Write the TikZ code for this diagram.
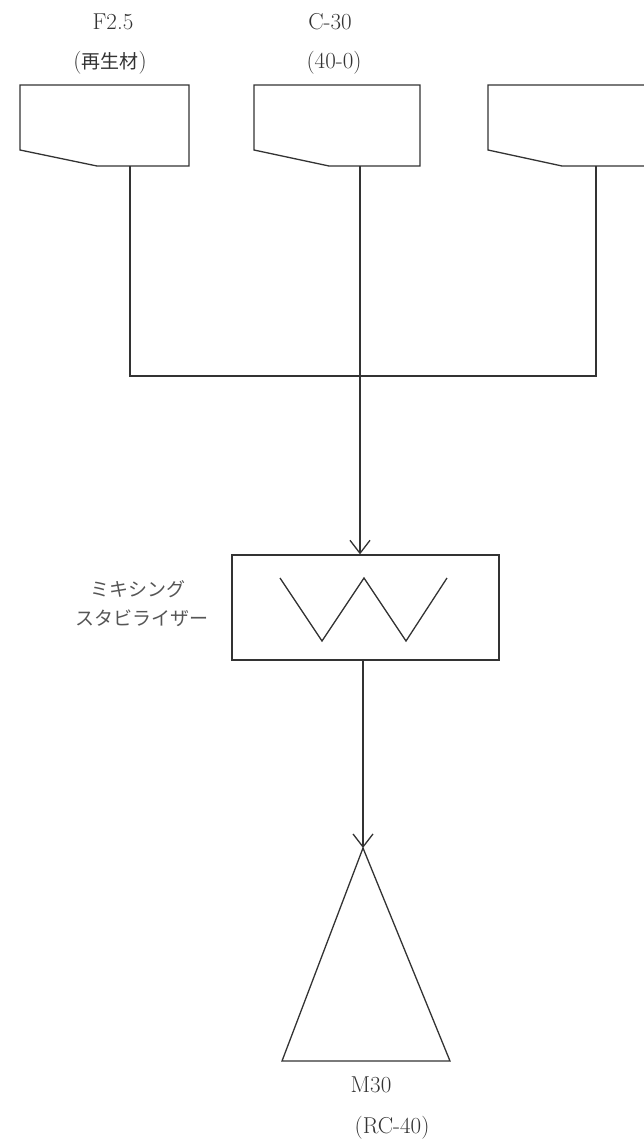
\documentclass[tikz,border=0pt]{standalone}
\usepackage{fontspec}
\newfontfamily\jpfont{Noto Sans CJK JP}
\usetikzlibrary{arrows.meta, positioning, calc}
\definecolor{lineink}{HTML}{333333}
\definecolor{jpink}{HTML}{555555}

\begin{document}
\begin{tikzpicture}[x=1pt, y=-1pt, line width=1.3pt, draw=lineink,
    flow/.style={-{Straight Barb[length=13pt,width=20pt,line width=1.3pt]}},
    matname/.style={font=\fontsize{23}{27}\selectfont, text=lineink},
    jpname/.style={font=\jpfont\fontsize{19}{29}\selectfont, text=jpink, align=left}]
  \useasboundingbox (0,0) rectangle (644,1140);

  % hoppers
  \draw (20,85) -- (189,85) -- (189,166) -- (97,166) -- (20,150) -- cycle;
  \draw (254,85) -- (420,85) -- (420,166) -- (329,166) -- (254,150) -- cycle;
  \draw (644,85) -- (488,85) -- (488,150) -- (562,166) -- (644,166);
  \coordinate (hopA) at (130,166);
  \coordinate (hopB) at (360,166);
  \coordinate (hopC) at (596,166);

  \node[matname] (nameA) at (113,22) {F2.5};
  \node[matname] (subA) at (110,63) {({\jpfont\fontsize{19}{23}\selectfont 再生材})};
  \node[matname] (nameB) at (330,22) {C-30};
  \node[matname] (subB) at (334,63) {(40-0)};

  % collector
  \coordinate (joinA) at (130,376);
  \coordinate (joinC) at (596,376);
  \draw (hopA) -- (joinA) -- (joinC) -- (hopC);

  % mixer
  \node[draw, minimum width=267pt, minimum height=105pt, inner sep=0pt]
    (mixer) at (365.5,607.5) {};
  \draw (280,578) -- (322,641) -- (364,578) -- (406,641) -- (447,578);
  \node[jpname, anchor=east] (mixname) at (212,604)
    {\hspace*{15pt}ミキシング\\スタビライザー};
  \draw[flow] (hopB) -- (hopB |- mixer.north);

  % stockpile
  \coordinate (apex) at (363,848);
  \draw (apex) -- (450,1061) -- (282,1061) -- cycle;
  \coordinate (mixout) at (363,660);
  \draw[flow] (mixout) -- (apex);
  \node[matname] (nameM) at (371,1085) {M30};
  \node[matname] (subM) at (392,1128) {(RC-40)};
\end{tikzpicture}
\end{document}
